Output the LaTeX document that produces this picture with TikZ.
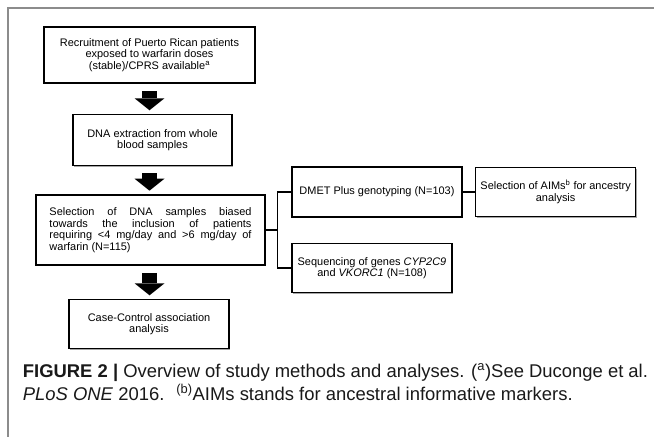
\documentclass[tikz,border=0pt]{standalone}
\usepackage{fontspec}
\setmainfont{Liberation Sans}
\usetikzlibrary{positioning,arrows.meta,shadows}

\begin{document}
\begin{tikzpicture}[
  x=1bp, y=-1bp,
  font=\fontsize{11}{11.5}\selectfont,
  every node/.style={align=center},
  stepbox/.style={draw=black, line width=1.6bp, fill=white, inner sep=2pt,
                  drop shadow={shadow xshift=1.2bp, shadow yshift=-1.2bp,
                               fill=black, opacity=0.35}},
  blockarr/.style={line width=15bp, black,
                   -{Triangle[width=30bp, length=12bp, line width=0pt]},
                   shorten <=7bp, shorten >=3.5bp},
  link/.style={line width=1.3bp, black},
  frame/.style={line width=1.5bp, black!45},
]
\useasboundingbox (0,0) rectangle (654,437);

% --- Panel frame ---
\draw[frame] (8,437) -- (8,8) -- (654,8);

% --- Left column: main workflow ---
\node[stepbox, minimum width=211bp, minimum height=56bp] (recruit) at (149.5,55) {%
  Recruitment of Puerto Rican patients\\
  exposed to warfarin doses\\
  (stable)/CPRS available\textsuperscript{a}%
};

\node[stepbox, minimum width=159bp, minimum height=51bp,
      below=30bp of recruit, xshift=3bp] (dna) {%
  DNA extraction from whole\\
  blood samples%
};

\node[stepbox, minimum width=229bp, minimum height=70bp,
      text width=202bp, align=justify] (select) at (150.5,230) {%
  \hyphenpenalty=10000
  Selection of DNA samples biased\linebreak towards the inclusion of patients\linebreak
  requiring <4 mg/day and >6 mg/day of\linebreak warfarin (N=115)%
};

\node[stepbox, minimum width=160bp, minimum height=49bp,
      below=33bp of select, xshift=-1.5bp] (casectrl) {%
  Case-Control association\\
  analysis%
};

% --- Right column: genotyping branches ---
\node[stepbox, minimum width=170bp, minimum height=50bp] (dmet) at (377,192) {%
  DMET Plus genotyping (N=103)%
};
\node[stepbox, minimum width=160bp, minimum height=49bp,
      right=12bp of dmet] (aims) {%
  Selection of AIMs\textsuperscript{b} for ancestry\\
  analysis%
};
\node[stepbox, minimum width=160bp, minimum height=49bp,
      below=25bp of dmet.south west, anchor=north west] (seq) {%
  Sequencing of genes \textit{CYP2C9}\\
  and \textit{VKORC1} (N=108)%
};

% --- Block arrows between steps ---
\draw[blockarr] (recruit.south) -- (recruit.south |- dna.north);
\draw[blockarr] (recruit.south |- dna.south) -- (recruit.south |- select.north);
\draw[blockarr] (recruit.south |- select.south) -- (recruit.south |- casectrl.north);

% --- Orthogonal connectors to the branches ---
\draw[link] (select.east) -- ++(12bp,0) |- (dmet.west);
\draw[link] (select.east) -- ++(12bp,0) |- (seq.west);
\draw[link] (dmet.east) -- (dmet.east -| aims.west);

% --- Caption ---
\node[anchor=base west, align=left, inner sep=0pt, text=black!90,
      font=\fontsize{18.5}{23}\selectfont] (caption) at (22.7,400) {%
  \textbf{FIGURE 2 |} Overview of study methods and analyses. (\textsuperscript{a})See Duconge et al.\\
  \textit{PLoS ONE} 2016. \ \textsuperscript{(b)}AIMs stands for ancestral informative markers.%
};

\end{tikzpicture}
\end{document}
